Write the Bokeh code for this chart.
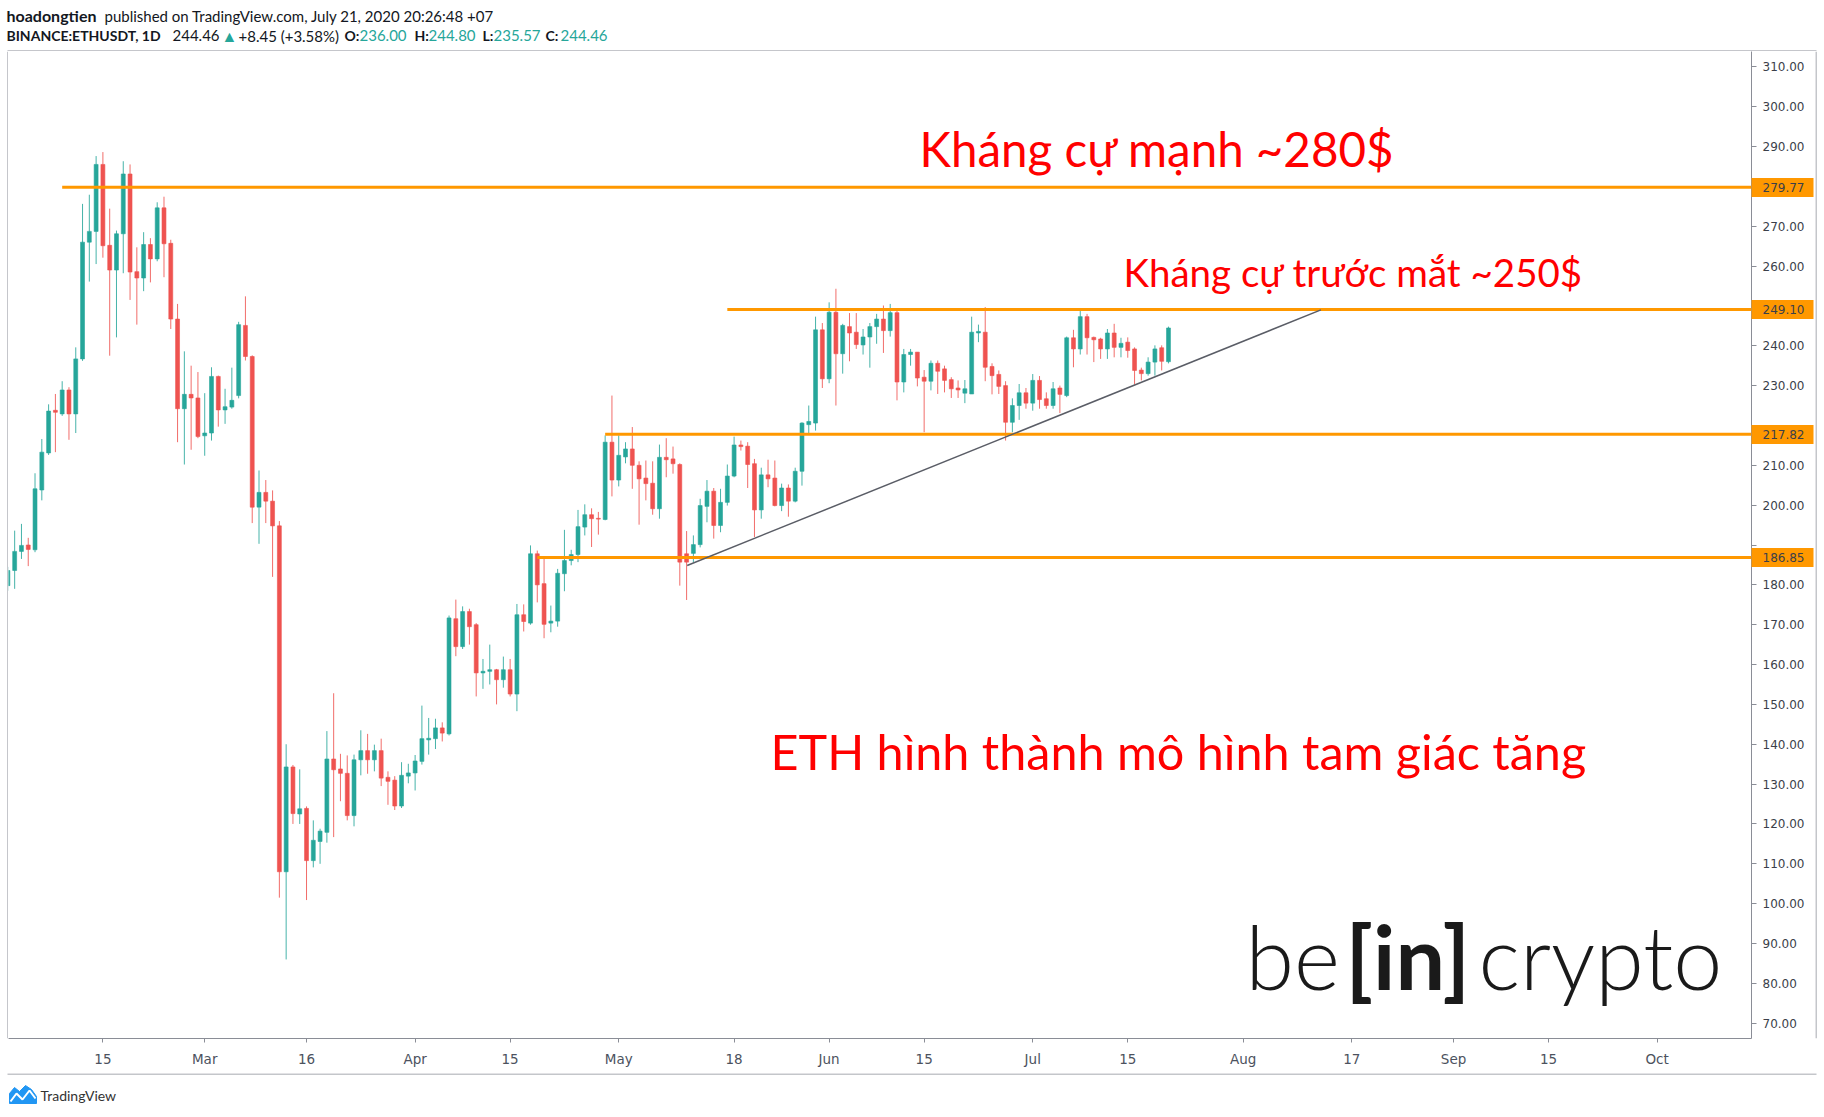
import pandas as pd
from bokeh.plotting import figure
from bokeh.layouts import column, row
from bokeh.models import (Range1d, FixedTicker, Label, ColumnDataSource, PrintfTickFormatter)
from bokeh.embed import file_html
from bokeh.resources import INLINE

# ---------------- data ----------------
start_date = "2020-02-01"

opens = [
    # Feb
    179.8, 183.6, 188.4, 190.0, 188.8, 203.8, 213.1, 223.8, 222.9, 228.9, 222.9, 236.7, 266.0, 268.7, 285.5,
    265.2, 259.0, 268.1, 283.1, 258.6, 257.0, 265.4, 261.8, 274.6, 265.7, 246.7, 224.2, 227.8, 226.9,
    # Mar
    217.4, 218.1, 232.3, 223.9, 224.6, 227.5, 245.1, 237.3, 199.5, 203.2, 201.0, 194.8, 108.0, 134.3, 122.5,
    123.9, 110.8, 115.6, 117.9, 136.3, 133.8, 132.7, 122.1, 136.1, 138.4, 136.1, 138.4, 131.7, 131.0, 124.5, 132.0,
    # Apr
    132.8, 135.7, 141.1, 141.4, 144.1, 142.6, 171.5, 164.5, 173.3, 170.0, 157.9, 158.3, 158.7, 156.2, 158.7,
    152.6, 172.5, 170.4, 187.8, 180.3, 170.4, 170.9, 182.8, 186.1, 187.6, 194.5, 197.6, 196.7, 196.4, 215.8,
    # May
    206.3, 212.1, 214.1, 210.0, 206.8, 205.5, 199.1, 212.0, 211.6, 210.2, 187.8, 187.9, 190.1, 199.7, 203.5,
    194.9, 200.7, 207.3, 215.1, 214.8, 210.4, 198.8, 207.6, 206.8, 199.9, 204.3, 201.0, 208.5, 220.2, 220.6, 244.0,
    # Jun
    231.7, 248.4, 238.0, 244.8, 243.4, 240.2, 242.2, 244.8, 246.7, 243.8, 248.3, 230.9, 237.8, 238.4, 232.1,
    231.1, 235.6, 234.2, 231.5, 229.4, 228.1, 227.9, 243.2, 243.4, 234.8, 232.8, 230.0, 220.8, 225.0, 228.2,
    # Jul
    225.6, 231.3, 226.7, 225.0, 229.4, 227.5, 242.0, 239.2, 247.3, 242.1, 241.7, 239.2, 243.2, 239.6, 240.9,
    239.2, 233.9, 233.0, 235.9, 239.5, 236.00,
]
highs = [
    184.5, 193.6, 195.3, 191.8, 208.0, 216.6, 225.3, 227.9, 231.1, 229.6, 239.6, 275.6, 277.9, 287.6, 288.6,
    274.4, 268.9, 286.3, 285.5, 264.7, 268.5, 267.0, 276.0, 277.4, 266.6, 250.5, 238.6, 235.0, 233.4,
    228.1, 234.6, 232.5, 229.2, 234.5, 246.0, 252.4, 237.6, 208.7, 206.3, 203.7, 196.0, 140.0, 134.8, 133.7,
    124.4, 120.9, 118.8, 143.3, 152.8, 137.6, 137.2, 137.4, 143.5, 142.6, 139.9, 141.4, 133.2, 132.0, 135.5, 135.1,
    137.3, 149.7, 146.6, 146.4, 145.5, 172.3, 176.3, 174.6, 174.0, 170.4, 161.4, 165.0, 158.9, 162.0, 161.4,
    175.2, 175.1, 189.9, 188.6, 186.8, 174.8, 184.0, 193.8, 188.8, 198.8, 200.2, 199.2, 198.3, 217.5, 227.5,
    217.5, 215.8, 219.6, 211.0, 211.2, 211.0, 215.2, 216.8, 214.7, 210.5, 193.5, 192.4, 201.6, 206.3, 204.3,
    204.1, 210.2, 217.2, 216.2, 215.8, 211.6, 209.4, 211.4, 211.2, 205.4, 205.2, 209.4, 220.8, 225.0, 247.3, 245.7,
    250.9, 254.3, 245.5, 248.2, 248.2, 244.2, 245.7, 248.0, 250.1, 250.5, 248.8, 239.2, 239.2, 238.4, 233.9,
    236.3, 236.3, 235.0, 232.1, 231.3, 231.4, 247.3, 245.3, 249.7, 235.6, 233.8, 231.1, 226.8, 230.4, 229.4,
    232.9, 232.4, 228.3, 230.9, 230.0, 242.3, 244.0, 248.8, 248.0, 242.3, 242.0, 244.2, 245.5, 242.0, 242.1,
    239.6, 234.5, 237.1, 240.1, 240.1, 244.80,
]
lows = [
    178.5, 179.0, 186.5, 184.7, 188.2, 201.2, 212.6, 213.3, 222.4, 216.4, 218.1, 236.2, 256.1, 260.5, 262.1,
    237.5, 242.1, 258.2, 251.5, 245.3, 253.7, 255.9, 261.2, 257.2, 244.2, 215.8, 210.2, 213.9, 216.8,
    212.4, 216.2, 219.7, 220.4, 224.2, 226.8, 236.3, 195.5, 190.3, 195.5, 182.0, 101.5, 86.0, 120.0, 120.0,
    100.9, 109.1, 110.0, 115.3, 116.7, 125.7, 120.9, 119.4, 132.2, 132.6, 133.2, 129.5, 124.8, 123.5, 124.0, 130.2,
    128.4, 134.9, 137.4, 138.8, 140.7, 142.2, 162.1, 163.9, 165.0, 152.0, 153.9, 155.0, 150.0, 154.2, 152.0,
    148.3, 168.3, 170.0, 175.6, 166.6, 168.1, 169.5, 178.4, 184.9, 185.7, 192.4, 189.5, 192.6, 196.2, 202.2,
    204.7, 210.5, 204.1, 195.1, 201.2, 197.6, 196.6, 207.0, 207.9, 179.8, 176.2, 185.7, 189.4, 195.7, 191.6,
    193.2, 199.9, 207.0, 213.7, 204.3, 192.0, 196.6, 204.5, 199.7, 198.5, 197.1, 200.7, 204.9, 217.9, 218.7, 229.4,
    230.6, 225.0, 233.0, 236.1, 239.2, 237.8, 234.5, 240.5, 238.2, 242.3, 226.3, 228.3, 235.0, 229.8, 218.3,
    228.8, 227.9, 228.3, 226.9, 226.9, 225.6, 227.9, 240.9, 231.1, 227.8, 227.9, 216.2, 218.3, 221.4, 224.2,
    223.7, 224.2, 224.2, 224.2, 223.1, 227.1, 234.6, 237.8, 237.8, 235.9, 236.7, 236.7, 237.1, 237.1, 237.0,
    230.3, 231.3, 232.5, 232.5, 233.8, 235.57,
]
closes = [
    183.6, 188.4, 189.9, 188.9, 204.1, 213.3, 223.6, 223.3, 228.9, 222.9, 236.7, 266.0, 268.7, 285.5, 265.1,
    259.0, 268.1, 283.1, 258.5, 257.0, 265.4, 261.8, 274.6, 265.6, 246.7, 224.2, 227.8, 226.9, 217.2,
    218.1, 232.3, 223.9, 224.7, 226.3, 245.3, 237.3, 199.5, 203.2, 201.0, 194.8, 108.0, 134.3, 122.6, 123.8,
    110.8, 115.9, 118.2, 136.3, 133.6, 132.7, 122.1, 136.1, 138.4, 136.1, 138.4, 131.5, 130.7, 124.5, 132.2, 132.8,
    135.8, 141.4, 141.5, 144.1, 142.8, 171.7, 164.5, 173.3, 169.5, 157.9, 158.3, 158.7, 156.2, 158.7, 152.6,
    172.5, 170.8, 187.8, 180.0, 170.1, 170.9, 182.9, 186.1, 187.6, 194.6, 197.6, 196.6, 196.5, 215.8, 206.3,
    212.5, 214.1, 210.0, 206.6, 205.4, 199.1, 212.0, 211.4, 210.4, 185.7, 185.7, 190.1, 199.9, 203.5, 194.9,
    200.7, 207.3, 215.1, 214.7, 210.2, 198.8, 207.6, 206.6, 199.9, 204.3, 201.0, 208.5, 220.6, 221.0, 244.0, 231.7,
    248.4, 238.0, 245.1, 243.2, 240.3, 242.2, 244.8, 246.7, 243.8, 248.3, 230.9, 237.8, 238.4, 231.9, 231.1,
    235.6, 233.6, 231.3, 229.2, 228.9, 229.2, 243.4, 243.6, 234.6, 232.5, 229.8, 220.8, 225.0, 228.2, 225.6,
    231.3, 226.5, 225.0, 229.2, 227.8, 242.0, 239.2, 247.3, 242.0, 241.5, 239.2, 243.2, 239.6, 240.6, 238.8,
    233.8, 233.0, 235.9, 239.2, 236.1, 244.46,
]

level_prices = [279.77, 249.10, 217.82, 186.85]
level_labels = ["279.77", "249.10", "217.82", "186.85"]
level_starts = ["2020-02-09", "2020-05-17", "2020-04-29", "2020-04-19"]

trend_times = ["2020-05-11 02:00", "2020-08-12 11:00"]
trend_prices = [184.86, 249.0]

price_ticks = [70, 80, 90, 100, 110, 120, 130, 140, 150, 160, 170, 180, 190,
               200, 210, 220, 230, 240, 250, 260, 270, 280, 290, 300, 310]
hidden_price_ticks = [280, 250, 220, 190]   # covered by the price tags
date_ticks = ["2020-02-01", "2020-02-15", "2020-03-01", "2020-03-16", "2020-04-01", "2020-04-15",
              "2020-05-01", "2020-05-18", "2020-06-01", "2020-06-15", "2020-07-01", "2020-07-15",
              "2020-08-01", "2020-08-17", "2020-09-01", "2020-09-15", "2020-10-01"]
date_tick_labels = ["Feb", "15", "Mar", "16", "Apr", "15", "May", "18", "Jun", "15", "Jul", "15",
                    "Aug", "17", "Sep", "15", "Oct"]

header_user = "hoadongtien"
header_rest = "published on TradingView.com, July 21, 2020 20:26:48 +07"
symbol_text = "BINANCE:ETHUSDT, 1D"
last_price = "244.46"
change_text = "+8.45 (+3.58%)"
ohlc_names = ["O:", "H:", "L:", "C:"]
ohlc_values = ["236.00", "244.80", "235.57", "244.46"]

note_strong = "Kháng cự mạnh ~280$"
note_near = "Kháng cự trước mắt ~250$"
note_pattern = "ETH hình thành mô hình tam giác tăng"

# ---------------- styling ----------------
UP = "#26a69a"
DOWN = "#ef5350"
ORANGE = "#ff9800"
AXIS_LINE = "#8a8d96"
AXIS_TEXT = "#4c525e"
DARK = "#131722"
DAY = 86400000.0
W, H = 1824, 1117
FL, FR, FT, FB, BOT = 8, 1751, 51, 1038, 1073   # page pixels of the chart frame / time scale bottom
RIGHT_EDGE = 1815
TAG_LEN = 62


def ms(s):
    return pd.Timestamp(s).value / 1e6


FEB15 = ms("2020-02-15")
X0 = FEB15 - 13.909 * DAY
X1 = FEB15 + 242.9 * DAY
Y0, Y1 = 66.16, 313.84


def blank(width, height, xr, yr):
    f = figure(width=width, height=height, min_border=0, x_range=xr, y_range=yr,
               x_axis_location=None, y_axis_location=None,
               output_backend="svg", toolbar_location=None)
    f.xgrid.visible = False
    f.ygrid.visible = False
    f.outline_line_color = None
    return f


# ---------------- header ----------------
hdr = blank(W, FT, Range1d(0, W), Range1d(FT, 0))


def htext(f, px, py, text, size, color=DARK, font="Lato", style="normal", baseline="middle"):
    f.add_layout(Label(x=px, y=py, text=text, text_font=font, text_font_size=size,
                       text_font_style=style, text_color=color, text_baseline=baseline,
                       text_align="left"))


htext(hdr, 6, 15, header_user, "16px", style="bold")
htext(hdr, 104, 15, header_rest, "15px")
htext(hdr, 6, 35, symbol_text, "14px", style="bold")
htext(hdr, 172, 35, last_price, "15px")
htext(hdr, 221, 35, "▲", "16px", color=UP)
htext(hdr, 238, 35, change_text, "15px")
for xn, xv, nm, vl in zip([344, 414, 482, 545], [359, 428, 493, 560], ohlc_names, ohlc_values):
    htext(hdr, xn, 35, nm, "14px", style="bold")
    htext(hdr, xv, 35, vl, "15px", color=UP)
hdr.segment(x0=[FL - 1], y0=[FT - 0.5], x1=[RIGHT_EDGE + 1], y1=[FT - 0.5], line_color=AXIS_LINE, line_width=1)

# ---------------- main chart ----------------
dates = pd.date_range(start_date, periods=len(opens), freq="D")
colors = [UP if c >= o else DOWN for o, c in zip(opens, closes)]
tops = [max(o, c) for o, c in zip(opens, closes)]
bottoms = [min(o, c) for o, c in zip(opens, closes)]
src = ColumnDataSource(dict(date=dates, open=opens, high=highs, low=lows, close=closes,
                            top=tops, bottom=bottoms, color=colors))

p = figure(frame_width=FR - FL, frame_height=FB - FT,
           min_border_left=0, min_border_right=RIGHT_EDGE - FR, min_border_top=0,
           min_border_bottom=BOT - FB,
           x_axis_type="datetime", y_axis_location="right",
           x_range=Range1d(X0, X1), y_range=Range1d(Y0, Y1),
           output_backend="svg", toolbar_location=None)
p.xgrid.visible = False
p.ygrid.visible = False
p.outline_line_color = None

xa = p.xaxis[0]
tick_ms = [ms(d) for d in date_ticks]
xa.ticker = FixedTicker(ticks=tick_ms)
xa.major_label_overrides = {t: lab for t, lab in zip(tick_ms, date_tick_labels)}
xa.minor_tick_line_color = None
xa.major_tick_in = 0
xa.major_tick_out = 4
xa.major_tick_line_color = AXIS_LINE
xa.axis_line_color = AXIS_LINE
xa.major_label_standoff = 8
xa.major_label_text_font = "DejaVu Sans"
xa.major_label_text_font_size = "13.5px"
xa.major_label_text_color = AXIS_TEXT

ya = p.yaxis[0]
ya.ticker = FixedTicker(ticks=price_ticks + level_prices, minor_ticks=level_prices)
ya.formatter = PrintfTickFormatter(format="%.2f")
overrides = {float(t): "" for t in hidden_price_ticks}
overrides.update({pr: lab for pr, lab in zip(level_prices, level_labels)})
ya.major_label_overrides = overrides
ya.major_tick_in = 0
ya.major_tick_out = 5
ya.major_tick_line_color = AXIS_LINE
ya.axis_line_color = AXIS_LINE
# labels sit 11px right of the scale line, on top of the wide tag ticks
ya.major_label_standoff = 11 - TAG_LEN
ya.major_label_text_font = "DejaVu Sans"
ya.major_label_text_font_size = "12px"
ya.major_label_text_color = "#3b3f4a"
# price tags: drawn as wide orange "minor ticks" under the labels
ya.minor_tick_in = 0
ya.minor_tick_out = TAG_LEN
ya.minor_tick_line_width = 19
ya.minor_tick_line_color = ORANGE

# candles
p.segment(x0="date", y0="low", x1="date", y1="high", line_color="color", line_width=1,
          line_alpha=0.85, source=src)
p.vbar(x="date", width=0.58 * DAY, top="top", bottom="bottom", fill_color="color",
       line_color="color", line_width=0.6, source=src)

# horizontal levels
lvl_x0 = [ms(s) for s in level_starts]
p.segment(x0=lvl_x0, y0=level_prices, x1=[X1 + 5 * DAY] * len(level_prices), y1=level_prices,
          line_color=ORANGE, line_width=3)

# trend line
p.line(x=[ms(t) for t in trend_times], y=trend_prices, line_color="#5a5d66", line_width=1.5)


def dx(px):
    return X0 + (px - FL) / (FR - FL) * (X1 - X0)


def dy(py):
    return Y1 - (py - FT) / (FB - FT) * (Y1 - Y0)


def ptext(px, py, text, size, color, style="normal", font="Lato"):
    p.add_layout(Label(x=dx(px), y=dy(py), text=text, text_font=font, text_font_size=size,
                       text_font_style=style, text_color=color, text_baseline="middle",
                       text_align="left"))


ptext(919, 148, note_strong, "47.5px", "#ff0000")
ptext(1123, 271, note_near, "38.5px", "#ff0000")
ptext(770, 750, note_pattern, "48.5px", "#ff0000")

# logo
ptext(1245, 955, "be", "88px", "#1a1a1a", font="Lato Light, Lato")
ptext(1345, 955, "[in]", "88px", "#1a1a1a", style="bold")
ptext(1478, 955, "crypto", "88px", "#1a1a1a", font="Lato Light, Lato")

# left / right edges of the chart box
left_strip = blank(FL, BOT - FT, Range1d(0, FL), Range1d(0, BOT - FT))
left_strip.segment(x0=[FL - 0.5], y0=[0], x1=[FL - 0.5], y1=[BOT - FT], line_color=AXIS_LINE, line_width=1)
right_strip = blank(W - 1 - RIGHT_EDGE, BOT - FT, Range1d(0, W - 1 - RIGHT_EDGE), Range1d(0, BOT - FT))
right_strip.segment(x0=[0.5], y0=[0], x1=[0.5], y1=[BOT - FT], line_color=AXIS_LINE, line_width=1)

# ---------------- footer ----------------
ftr = blank(W, H - 1 - BOT, Range1d(0, W), Range1d(H - 1, BOT))
ftr.segment(x0=[FL - 1], y0=[BOT + 0.5], x1=[RIGHT_EDGE + 1], y1=[BOT + 0.5], line_color=AXIS_LINE, line_width=1)
ftr.patch(x=[9, 9, 14, 19, 25, 31, 36, 36], y=[1103, 1093, 1087, 1091, 1085, 1089, 1096, 1103],
          fill_color="#2196f3", line_color="#2196f3")
ftr.line(x=[10, 16, 22, 29, 35], y=[1101, 1093, 1099, 1090, 1098], line_color="white", line_width=2)
htext(ftr, 40, 1095, "TradingView", "14px", color="#333333")

layout = column(hdr, row(left_strip, p, right_strip), ftr)
open("out.html", "w").write(file_html(layout, INLINE))
